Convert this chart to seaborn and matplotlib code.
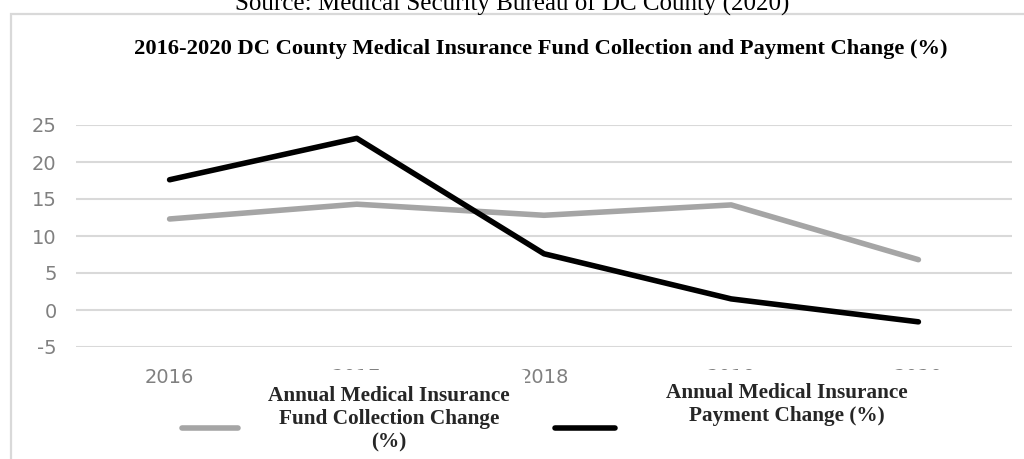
import matplotlib
matplotlib.use("Agg")
import matplotlib.pyplot as plt
from matplotlib.patches import Rectangle
from matplotlib.lines import Line2D
import seaborn as sns
import pandas as pd

# Data
years = ["2016", "2017", "2018", "2019", "2020"]
fund_collection_change = [12.3, 14.3, 12.8, 14.2, 6.8]
payment_change = [17.6, 23.2, 7.6, 1.5, -1.6]
series_names = [
    "Annual Medical Insurance\nFund Collection Change\n(%)",
    "Annual Medical Insurance\nPayment Change (%)",
]
title = "2016-2020 DC County Medical Insurance Fund Collection and Payment Change (%)"
source = "Source: Medical Security Bureau of DC County (2020)"
yticks = [-5, 0, 5, 10, 15, 20, 25]

colors = ["#a5a5a5", "#000000"]

df = pd.DataFrame({
    "year": years * 2,
    "value": fund_collection_change + payment_change,
    "series": [series_names[0]] * len(years) + [series_names[1]] * len(years),
})

sns.set_theme(style="white")
plt.rcParams["font.family"] = ["DejaVu Sans"]
plt.rcParams["axes.unicode_minus"] = False

W, H = 1024, 459
fig = plt.figure(figsize=(W / 100, H / 100), dpi=100)
ax = fig.add_axes([76 / W, 1 - 347 / H, (1012 - 76) / W, (347 - 125) / H])

sns.lineplot(data=df, x="year", y="value", hue="series", palette=colors,
             linewidth=4.0, legend=False, ax=ax, sort=False)
for ln in ax.lines:
    ln.set_solid_capstyle("round")
    ln.set_solid_joinstyle("round")

ax.set_xlim(-0.5, len(years) - 0.5)
ax.set_ylim(-5, 25)
ax.set_yticks(yticks)
ax.set_xlabel("")
ax.set_ylabel("")
ax.grid(axis="y", color="#d9d9d9", linewidth=1.5)
ax.grid(axis="x", visible=False)
ax.set_axisbelow(True)
for sp in ax.spines.values():
    sp.set_visible(False)
ax.tick_params(axis="both", length=0, labelsize=14, labelcolor="#808080")
ax.tick_params(axis="y", pad=14)
ax.tick_params(axis="x", pad=15)

# outer chart border
fig.patches.append(Rectangle((11 / W, -0.1), 1.2, 1.1 - 14 / H,
                             transform=fig.transFigure, fill=False,
                             edgecolor="#d9d9d9", linewidth=1.6, zorder=1))

# source line and title
fig.text(0.5, 1 - 11 / H, source, ha="center", va="baseline",
         family="Liberation Serif", fontsize=18, color="#000000")
fig.text(541 / W, 1 - 49 / H, title, ha="center", va="center",
         family="Liberation Serif", fontweight="bold", fontsize=16.2, color="#000000")

# legend handles
for name, col, x0, hl in [(series_names[0], colors[0], 182, 2.9),
                          (series_names[1], colors[1], 555, 3.1)]:
    h = Line2D([], [], color=col, linewidth=4.0, solid_capstyle="round")
    leg = fig.legend(handles=[h], labels=[name], loc="center left",
                     bbox_to_anchor=(x0 / W, 1 - 427 / H), frameon=False,
                     borderpad=0, borderaxespad=0, handlelength=hl, fontsize=14)
    for t in leg.get_texts():
        t.set_visible(False)

# legend label panels
fig.patches.append(Rectangle((250 / W, 0), 275 / W, 89 / H, transform=fig.transFigure,
                             facecolor="white", edgecolor="none", zorder=5))
fig.patches.append(Rectangle((620 / W, 1 - 440 / H), 335 / W, 70 / H, transform=fig.transFigure,
                             facecolor="white", edgecolor="none", zorder=5))
fig.text(389 / W, 1 - 419 / H, series_names[0], ha="center", va="center",
         multialignment="center", linespacing=1.2, family="Liberation Serif",
         fontweight="bold", fontsize=15.3, zorder=6)
fig.text(787 / W, 1 - 405 / H, series_names[1], ha="center", va="center",
         multialignment="center", linespacing=1.2, family="Liberation Serif",
         fontweight="bold", fontsize=15.3, zorder=6)

fig.savefig("out.png", dpi=100)
